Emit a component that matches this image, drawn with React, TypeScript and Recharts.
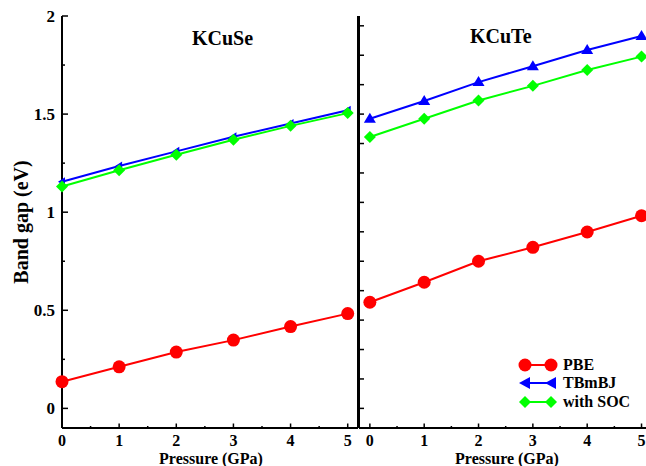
import React from "react"
import { LineChart, Line, XAxis, YAxis } from "recharts"

const pressure = [0, 1, 2, 3, 4, 5]

const kcusePbe = [0.136, 0.212, 0.287, 0.348, 0.417, 0.483]
const kcuseTbmbj = [1.155, 1.235, 1.31, 1.385, 1.452, 1.52]
const kcuseSoc = [1.131, 1.214, 1.293, 1.369, 1.44, 1.505]

const kcutePbe = [0.541, 0.643, 0.75, 0.821, 0.899, 0.982]
const kcuteTbmbj = [1.476, 1.567, 1.663, 1.744, 1.827, 1.898]
const kcuteSoc = [1.383, 1.476, 1.569, 1.644, 1.725, 1.793]

const xTicks = [0, 0.5, 1, 1.5, 2, 2.5, 3, 3.5, 4, 4.5, 5]
const yTicksLeft = [0, 0.25, 0.5, 0.75, 1, 1.25, 1.5, 1.75, 2]
const yTicksRight = [0, 0.15, 0.3, 0.45, 0.6, 0.75, 0.9, 1.05, 1.2, 1.35, 1.5, 1.65, 1.8, 1.95]

const seriesNames = ["PBE", "TBmBJ", "with SOC"]

const RED = "#ff0000"
const BLUE = "#0000ff"
const GREEN = "#00ff00"
const FONT = "'Liberation Serif', 'DejaVu Serif', serif"

const kcuseData = pressure.map((p, i) => ({ p, pbe: kcusePbe[i], tb: kcuseTbmbj[i], soc: kcuseSoc[i] }))
const kcuteData = pressure.map((p, i) => ({ p, pbe: kcutePbe[i], tb: kcuteTbmbj[i], soc: kcuteSoc[i] }))

const isMajor = (v: number, step: number) => Math.abs(v / step - Math.round(v / step)) < 1e-6

// markers
const circleDot = (props: any) => (
  <circle key={props.index} cx={props.cx} cy={props.cy} r={6.5} fill={RED} />
)
const diamondDot = (props: any) => {
  const { cx, cy } = props
  const s = 6
  return <polygon key={props.index} points={`${cx},${cy - s} ${cx + s},${cy} ${cx},${cy + s} ${cx - s},${cy}`} fill={GREEN} />
}
const leftTriDot = (props: any) => {
  const { cx, cy } = props
  return <polygon key={props.index} points={`${cx - 4},${cy} ${cx + 3},${cy - 4.5} ${cx + 3},${cy + 4.5}`} fill={BLUE} />
}
const upTriDot = (props: any) => {
  const { cx, cy } = props
  return <polygon key={props.index} points={`${cx},${cy - 6} ${cx + 6},${cy + 4} ${cx - 6},${cy + 4}`} fill={BLUE} />
}

// inward ticks
const LeftYTick = (props: any) => {
  const { x, y, payload, labels } = props
  const major = isMajor(payload.value, 0.5)
  return (
    <g>
      <line x1={x} x2={x + (labels ? (major ? 6 : 3) : 5)} y1={y} y2={y} stroke="#000" strokeWidth={1.5} />
      {labels && major && (
        <text x={x - 7} y={y} dy="0.35em" textAnchor="end" fontFamily={FONT} fontWeight="bold" fontSize={17} fill="#000">
          {payload.value}
        </text>
      )}
    </g>
  )
}

const BottomXTick = (props: any) => {
  const { x, y, payload } = props
  const major = isMajor(payload.value, 1)
  return (
    <g>
      <line x1={x} x2={x} y1={y} y2={y - (major ? 4.5 : 2)} stroke="#000" strokeWidth={1.5} />
      {major && (
        <text x={x} y={y + 12} dy="0.35em" textAnchor="middle" fontFamily={FONT} fontWeight="bold" fontSize={16} fill="#000">
          {payload.value}
        </text>
      )}
    </g>
  )
}

const TopXTick = (props: any) => {
  const { x, y, payload } = props
  const major = isMajor(payload.value, 1)
  return <line x1={x} x2={x} y1={y} y2={y + (major ? 4.5 : 2)} stroke="#000" strokeWidth={1.5} />
}

const axisLine = { stroke: "#000", strokeWidth: 2 }

function Panel({ data, xDomain, yTicks, labels, tbDot }: any) {
  return (
    <LineChart width={360} height={466} data={data} margin={{ top: 16, right: 0, bottom: 0, left: 0 }}>
      <XAxis
        dataKey="p"
        type="number"
        domain={xDomain}
        ticks={xTicks}
        interval={0}
        height={38}
        tickSize={0}
        tickMargin={0}
        tickLine={false}
        axisLine={axisLine}
        tick={<BottomXTick />}
      />
      <XAxis
        xAxisId="top"
        orientation="top"
        dataKey="p"
        type="number"
        domain={xDomain}
        ticks={xTicks}
        interval={0}
        height={0}
        tickSize={0}
        tickMargin={0}
        tickLine={false}
        axisLine={axisLine}
        tick={<TopXTick />}
      />
      <YAxis
        type="number"
        domain={[-0.1, 2]}
        ticks={yTicks}
        interval={0}
        width={labels ? 62 : 59}
        tickSize={0}
        tickMargin={0}
        tickLine={false}
        axisLine={axisLine}
        tick={<LeftYTick labels={labels} />}
      />
      {labels && (
        <YAxis
          yAxisId="right"
          orientation="right"
          type="number"
          domain={[-0.1, 2]}
          width={2}
          tick={false}
          tickLine={false}
          axisLine={axisLine}
        />
      )}
      <Line dataKey="pbe" stroke={RED} strokeWidth={2} dot={circleDot} isAnimationActive={false} />
      <Line dataKey="tb" stroke={BLUE} strokeWidth={2} dot={tbDot} isAnimationActive={false} />
      <Line dataKey="soc" stroke={GREEN} strokeWidth={2} dot={diamondDot} isAnimationActive={false} />
    </LineChart>
  )
}

const textStyle: React.CSSProperties = {
  position: "absolute",
  fontFamily: FONT,
  fontWeight: "bold",
  color: "#000",
  whiteSpace: "nowrap",
  lineHeight: 1,
}

function LegendIcon({ i }: { i: number }) {
  const color = [RED, BLUE, GREEN][i]
  const marker = (cx: number) => {
    if (i === 0) return <circle cx={cx} cy={8} r={6.5} fill={RED} />
    if (i === 1) return <polygon points={`${cx - 6},8 ${cx + 5},${2} ${cx + 5},${14}`} fill={BLUE} />
    return <polygon points={`${cx},2 ${cx + 6},8 ${cx},14 ${cx - 6},8`} fill={GREEN} />
  }
  return (
    <svg width={40} height={16} style={{ display: "block" }}>
      <line x1={7} x2={33} y1={8} y2={8} stroke={color} strokeWidth={2} />
      {marker(7)}
      {marker(33)}
    </svg>
  )
}

export default function App() {
  return (
    <div style={{ position: "absolute", left: 0, top: 0, width: 646, height: 466, overflow: "hidden", background: "#fff" }}>
      <div style={{ position: "absolute", left: 0, top: 0 }}>
        <Panel data={kcuseData} xDomain={[0, 5.18]} yTicks={yTicksLeft} labels={true} tbDot={leftTriDot} />
      </div>
      <div style={{ position: "absolute", left: 300, top: 0 }}>
        <Panel data={kcuteData} xDomain={[-0.2, 5.34]} yTicks={yTicksRight} labels={false} tbDot={upTriDot} />
      </div>

      <div style={{ ...textStyle, left: 192, top: 28, fontSize: 20 }}>KCuSe</div>
      <div style={{ ...textStyle, left: 470, top: 26, fontSize: 20 }}>KCuTe</div>

      <div style={{ ...textStyle, left: 211, top: 459, fontSize: 16, transform: "translate(-50%, -50%)" }}>Pressure (GPa)</div>
      <div style={{ ...textStyle, left: 507, top: 459, fontSize: 16, transform: "translate(-50%, -50%)" }}>Pressure (GPa)</div>

      <div style={{ ...textStyle, left: 21, top: 222, fontSize: 20, transform: "translate(-50%, -50%) rotate(-90deg)" }}>
        Band gap (eV)
      </div>

      <div style={{ position: "absolute", left: 518, top: 356 }}>
        {seriesNames.map((name, i) => (
          <div key={name} style={{ display: "flex", alignItems: "center", height: 18.3 }}>
            <LegendIcon i={i} />
            <span style={{ fontFamily: FONT, fontWeight: "bold", fontSize: 16, marginLeft: 5, lineHeight: 1 }}>{name}</span>
          </div>
        ))}
      </div>
    </div>
  )
}
